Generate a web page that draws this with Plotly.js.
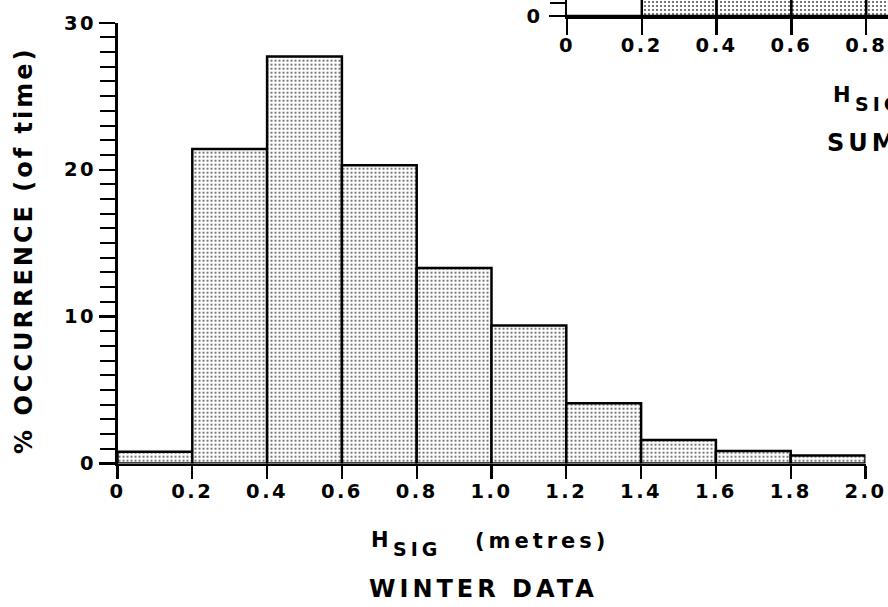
<!DOCTYPE html>
<html>
<head>
<meta charset="utf-8">
<script src="https://cdn.plot.ly/plotly-3.0.1.min.js"></script>
<style>
  html, body { margin: 0; padding: 0; background: #fff; }
  #chart { width: 888px; height: 607px; }
  .xtick text, .ytick text, .x2tick text, .y2tick text { letter-spacing: 2.5px; }
  .annotation-text { letter-spacing: 4px; }
  .annotation[data-index="0"] .annotation-text { letter-spacing: 3px; }
</style>
</head>
<body>
<div id="chart"></div>
<script>
// Winter histogram: bin left edges (metres) and % occurrence
const binLeft = [0, 0.2, 0.4, 0.6, 0.8, 1.0, 1.2, 1.4, 1.6, 1.8];
const winterPct = [0.8, 21.4, 27.7, 20.3, 13.3, 9.4, 4.1, 1.6, 0.85, 0.55];
const binWidth = 0.2;

// Partially visible summer histogram (cropped at top/right)
const summerBinLeft = [0, 0.2, 0.4, 0.6, 0.8];
const summerPct = [0, 30, 33, 20, 9];

const xTickVals = [0, 0.2, 0.4, 0.6, 0.8, 1.0, 1.2, 1.4, 1.6, 1.8, 2.0];
const xTickText = ['0', '0.2', '0.4', '0.6', '0.8', '1.0', '1.2', '1.4', '1.6', '1.8', '2.0'];
const yTickVals = [0, 10, 20, 30];
const yTickText = ['0', '10', '20', '30'];

const FONT = 'DejaVu Sans, Liberation Sans, Arial, sans-serif';
const W = 888, H = 607;
const px = v => v / W;
const py = v => (H - v) / H;

const pattern = { shape: '.', size: 4, solidity: 0.22, fgcolor: '#555', bgcolor: '#ffffff', fillmode: 'replace' };

const traces = [
  {
    type: 'bar', x: binLeft, y: winterPct, width: binWidth, offset: 0,
    xaxis: 'x', yaxis: 'y',
    marker: { color: '#ffffff', line: { color: '#000', width: 2.5 }, pattern: pattern },
    hoverinfo: 'skip', showlegend: false
  },
  {
    type: 'bar', x: summerBinLeft, y: summerPct, width: binWidth, offset: 0,
    xaxis: 'x2', yaxis: 'y2',
    marker: { color: '#ffffff', line: { color: '#000', width: 2.5 }, pattern: pattern },
    hoverinfo: 'skip', showlegend: false
  }
];

const tickFont = { family: FONT, size: 19.5, color: '#000', weight: 'bold' };
const titleFont = { family: FONT, size: 24, color: '#000', weight: 'bold' };
const unitFont = { family: FONT, size: 21, color: '#000', weight: 'bold' };
const subFont = { family: FONT, size: 19, color: '#000', weight: 'bold' };

function ann(x, y, text, font, extra) {
  return Object.assign({ xref: 'paper', yref: 'paper', x: px(x), y: py(y), text: text,
    showarrow: false, xanchor: 'left', yanchor: 'middle', font: font }, extra || {});
}

const layout = {
  width: W, height: H,
  margin: { l: 0, r: 0, t: 0, b: 0 },
  paper_bgcolor: '#fff', plot_bgcolor: 'rgba(0,0,0,0)',
  bargap: 0,
  xaxis: {
    domain: [px(117.5), px(865.5)], range: [0, 2.0], anchor: 'y',
    tickmode: 'array', tickvals: xTickVals, ticktext: xTickText,
    ticks: 'outside', ticklen: 13, tickwidth: 2.2, tickcolor: '#000',
    showline: true, linewidth: 2.5, linecolor: '#000',
    showgrid: false, zeroline: false, tickfont: tickFont, ticklabelstandoff: -4
  },
  yaxis: {
    domain: [py(463.5), py(22.7)], range: [0, 30], anchor: 'x',
    tickmode: 'array', tickvals: yTickVals, ticktext: yTickText,
    ticks: 'outside', ticklen: 16, tickwidth: 2.2, tickcolor: '#000',
    minor: { dtick: 1, ticks: 'outside', ticklen: 15, tickwidth: 2, tickcolor: '#000', showgrid: false },
    showline: true, linewidth: 2.5, linecolor: '#000',
    showgrid: false, zeroline: false, tickfont: tickFont, ticklabelstandoff: -1
  },
  xaxis2: {
    domain: [px(567), 1], range: [0, (W - 567) / 374], anchor: 'y2',
    tickmode: 'array', tickvals: xTickVals, ticktext: xTickText,
    ticks: 'outside', ticklen: 16, tickwidth: 2.2, tickcolor: '#000',
    showline: true, linewidth: 2.5, linecolor: '#000',
    showgrid: false, zeroline: false, tickfont: tickFont, ticklabelstandoff: -6
  },
  yaxis2: {
    domain: [py(16), 1], range: [0, 16 / 13.5], anchor: 'x2',
    tickmode: 'array', tickvals: yTickVals, ticktext: yTickText,
    ticks: 'outside', ticklen: 16, tickwidth: 2.2, tickcolor: '#000',
    minor: { dtick: 1, ticks: 'outside', ticklen: 15, tickwidth: 2, tickcolor: '#000', showgrid: false },
    showline: true, linewidth: 2.5, linecolor: '#000',
    showgrid: false, zeroline: false, tickfont: tickFont, ticklabelstandoff: 2
  },
  annotations: [
    ann(24, 250, '% OCCURRENCE (of time)', titleFont, { textangle: -90, xanchor: 'center' }),
    ann(369, 540, 'H', unitFont),
    ann(391, 549, 'SIG', subFont),
    ann(473, 541, '(metres)', unitFont),
    ann(367, 589, 'WINTER DATA', titleFont),
    ann(831, 95, 'H', unitFont),
    ann(853, 104, 'SIG', subFont),
    ann(825, 143, 'SUMMER DATA', titleFont)
  ]
};

Plotly.newPlot('chart', traces, layout, { displayModeBar: false, staticPlot: true });
</script>
</body>
</html>
